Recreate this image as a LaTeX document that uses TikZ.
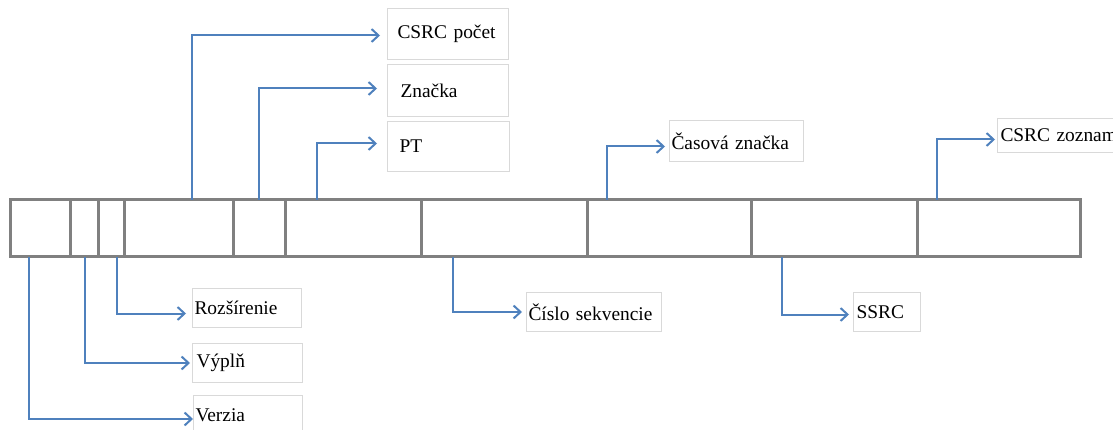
\documentclass[tikz,border=0pt]{standalone}
\usepackage{fontspec}
\setmainfont{Liberation Serif}
\usepackage{tikz}
\usetikzlibrary{arrows.meta, positioning}

\definecolor{bargray}{HTML}{808080}
\definecolor{boxgray}{HTML}{D9D9D9}
\definecolor{linkblue}{HTML}{4F81BD}

\begin{document}
\begin{tikzpicture}[x=1pt, y=-1pt,
  cell/.style={rectangle, draw=bargray, line width=3pt, minimum height=57pt, inner sep=0pt, outer sep=0pt},
  field/.style={rectangle, draw=boxgray, line width=1pt, anchor=north west, align=left, inner ysep=0pt, font=\fontsize{19.4}{23}\selectfont},
  link/.style={draw=linkblue, line width=2pt, -{Straight Barb[length=7pt, width=13pt]}}
]
  \useasboundingbox (0,0) rectangle (1113,430);

  % packet header bar
  \node[cell, minimum width=60pt, anchor=north west] (c1) at (10,200) {};
  \node[cell, minimum width=28pt, right=0pt of c1] (c2) {};
  \node[cell, minimum width=26pt, right=0pt of c2] (c3) {};
  \node[cell, minimum width=109pt, right=0pt of c3] (c4) {};
  \node[cell, minimum width=52pt, right=0pt of c4] (c5) {};
  \node[cell, minimum width=136pt, right=0pt of c5] (c6) {};
  \node[cell, minimum width=166pt, right=0pt of c6] (c7) {};
  \node[cell, minimum width=164pt, right=0pt of c7] (c8) {};
  \node[cell, minimum width=166pt, right=0pt of c8] (c9) {};
  \node[cell, minimum width=163pt, right=0pt of c9] (c10) {};

  % field names above
  \node[field, minimum height=51pt, text width=101pt, inner xsep=10pt] (pocet) at (387,8) {CSRC počet};
  \node[field, minimum height=52pt, text width=95pt, inner xsep=13pt] (znacka) at (387,64) {Značka};
  \node[field, minimum height=50pt, text width=98pt, inner xsep=12pt] (pt) at (387,121) {PT};
  \node[field, minimum height=41pt, text width=130pt, inner xsep=2pt] (casova) at (669,120) {Časová značka};
  \node[field, minimum height=34pt, text width=134pt, inner xsep=3pt] (zoznam) at (997,118) {CSRC zoznam};

  % field names below
  \node[field, minimum height=39pt, text width=105pt, inner xsep=2pt] (rozsirenie) at (192,288) {Rozšírenie};
  \node[field, minimum height=39pt, text width=102pt, inner xsep=4pt] (vypln) at (192,343) {Výplň};
  \node[field, minimum height=40pt, text width=105pt, inner xsep=2pt] (verzia) at (193,395) {Verzia};
  \node[field, minimum height=39pt, text width=131pt, inner xsep=2pt] (cislo) at (526,292) {Číslo sekvencie};
  \node[field, minimum height=39pt, text width=61pt, inner xsep=3pt] (ssrc) at (853,292) {SSRC};

  \draw[link, shorten >=7pt] ([xshift=68pt]c4.north west) |- ([yshift=-1.5pt]pocet.west);
  \draw[link, shorten >=10pt] (c5.north) |- ([yshift=2pt]znacka.west);
  \draw[link, shorten >=10pt] ([xshift=32pt]c6.north west) |- ([yshift=3pt]pt.west);
  \draw[link, shorten >=4pt] ([xshift=20pt]c8.north west) |- ([yshift=-5.5pt]casova.west);
  \draw[link, shorten >=2pt] ([xshift=20pt]c10.north west) |- ([yshift=-4pt]zoznam.west);

  \draw[link, shorten >=6pt] ([xshift=19pt]c3.south west) |- ([yshift=-5.5pt]rozsirenie.west);
  \draw[link, shorten >=2pt] ([xshift=15pt]c2.south west) |- (vypln.west);
  \draw[link] ([xshift=19pt]c1.south west) |- ([yshift=-3.5pt]verzia.west);
  \draw[link, shorten >=4pt] ([xshift=32pt]c7.south west) |- (cislo.west);
  \draw[link, shorten >=4pt] ([xshift=31pt]c9.south west) |- ([yshift=-2.5pt]ssrc.west);
\end{tikzpicture}
\end{document}
